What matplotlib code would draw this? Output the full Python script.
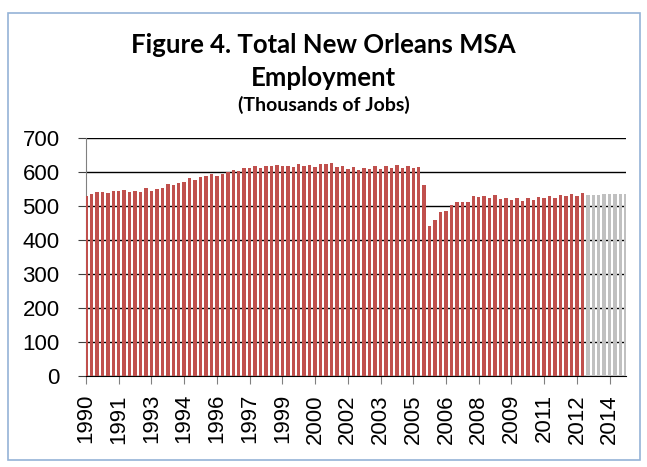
import matplotlib
matplotlib.use("Agg")
import matplotlib.pyplot as plt
from matplotlib.patches import Rectangle

# quarterly employment, 1990 Q1 .. 2012 Q4 (actual) then 2013 Q1 .. 2014 Q4 (forecast)
actual = [
    530, 536, 540, 542, 538, 544, 544, 548, 541, 543, 542, 552, 545, 551, 554, 565,
    562, 567, 570, 581, 576, 584, 587, 594, 587, 595, 600, 606, 602, 611, 611, 619,
    612, 619, 617, 620, 617, 617, 615, 624, 619, 622, 615, 623, 623, 625, 616, 618,
    608, 615, 606, 613, 609, 617, 609, 617, 613, 622, 613, 618, 612, 616, 562, 440,
    459, 481, 486, 504, 511, 512, 512, 528, 526, 529, 523, 532, 522, 525, 518, 523,
    516, 523, 517, 526, 524, 530, 523, 533, 528, 535, 528, 539,
]
forecast = [533, 533, 533, 534, 534, 535, 535, 536]
tick_labels = ["1990", "1991", "1993", "1994", "1996", "1997", "1999", "2000", "2002",
               "2003", "2005", "2006", "2008", "2009", "2011", "2012", "2014"]

W, H = 647, 467
fig = plt.figure(figsize=(W / 100, H / 100), dpi=100)
ax = fig.add_axes([86 / W, 1 - 376 / H, (626 - 86) / W, (376 - 138) / H])

n_act = len(actual)
x_act = list(range(n_act))
x_fc = list(range(n_act, n_act + len(forecast)))
ax.bar(x_act, actual, width=0.62, color="#C0504D", zorder=3)
ax.bar(x_fc, forecast, width=0.62, color="#C0C0C0", zorder=3)

ax.set_xlim(0, n_act + len(forecast) - 1)
ax.set_ylim(0, 700)
ax.set_yticks(range(0, 701, 100))
ax.yaxis.grid(True, color="black", linewidth=1.0, zorder=1)
ax.set_axisbelow(True)

ax.set_xticks(range(0, n_act + len(forecast), 6))
ax.set_xticklabels(tick_labels, rotation=90)

for s in ["top", "right"]:
    ax.spines[s].set_visible(False)
ax.spines["left"].set_color("#808080")
ax.spines["bottom"].set_color("black")
ax.tick_params(axis="y", length=6, color="#404040", pad=13, labelsize=16)
ax.tick_params(axis="x", length=6, color="#808080", pad=7, labelsize=16)
for lab in ax.get_xticklabels() + ax.get_yticklabels():
    lab.set_family("Liberation Sans")

fig.text(0.5, 1 - 45 / H, "Figure 4. Total New Orleans MSA", ha="center", va="center",
         fontsize=18.5, fontweight="bold", family="Lato")
fig.text(0.5, 1 - 78 / H, "Employment", ha="center", va="center",
         fontsize=18.5, fontweight="bold", family="Lato")
fig.text(0.5, 1 - 105 / H, "(Thousands of Jobs)", ha="center", va="center",
         fontsize=14, fontweight="bold", family="Lato")

fig.patches.append(Rectangle((8 / W, 1 - 460 / H), (640 - 8) / W, (460 - 13) / H,
                             transform=fig.transFigure, fill=False,
                             edgecolor="#95B3D7", linewidth=1.2))

fig.savefig("out.png", dpi=100)
